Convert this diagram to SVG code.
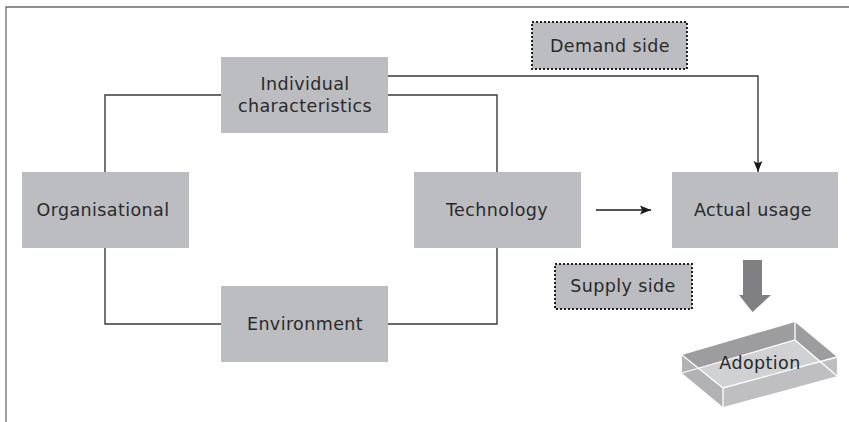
<svg xmlns="http://www.w3.org/2000/svg" width="849" height="422" viewBox="0 0 849 422">
<defs>
<style>
.box{fill:#bcbdc0;}
.dot{fill:#bcbdc0;stroke:#231f20;stroke-width:2;stroke-dasharray:2 2;}
.lbl{font-family:"DejaVu Sans","Liberation Sans",sans-serif;font-size:17.5px;fill:#2a2a2a;text-anchor:middle;letter-spacing:0.4px;}
.conn{fill:none;stroke:#3a3a3a;stroke-width:1.4;}
.wl{fill:none;stroke:#ffffff;stroke-width:1.3;}
</style>
<marker id="ah" viewBox="0 0 10 10" refX="10" refY="5" markerWidth="11" markerHeight="11" markerUnits="userSpaceOnUse" orient="auto">
<path d="M0,1 L10,5 L0,9 L2,5 Z" fill="#1a1a1a"/>
</marker>
</defs>
<rect width="849" height="422" fill="#ffffff"/>
<path d="M6,422 V7 H849" fill="none" stroke="#6a6a6a" stroke-width="1.3"/>
<g id="connectors">
<path class="conn" d="M221,95 H105 V172"/>
<path class="conn" d="M105,248 V324 H221"/>
<path class="conn" d="M388,324 H497 V248"/>
<path class="conn" d="M497,172 V95 H388"/>
<path class="conn" d="M388,76 H758 V172" marker-end="url(#ah)"/>
<path d="M596,210 H651" fill="none" stroke="#1a1a1a" stroke-width="1.4" marker-end="url(#ah)"/>
<path d="M743,260 H762 V295 H771 L752.5,312 L739,295 H743 Z" fill="#808083"/>
</g>
<g id="individual">
<rect class="box" x="221" y="57" width="167" height="76"/>
<text class="lbl" x="305" y="89.5">Individual</text>
<text class="lbl" x="305" y="112">characteristics</text>
</g>
<g id="organisational">
<rect class="box" x="22" y="172" width="167" height="76"/>
<text class="lbl" x="103" y="216">Organisational</text>
</g>
<g id="environment">
<rect class="box" x="221" y="286" width="167" height="76"/>
<text class="lbl" x="305" y="330">Environment</text>
</g>
<g id="technology">
<rect class="box" x="414" y="172" width="167" height="76"/>
<text class="lbl" x="497" y="216">Technology</text>
</g>
<g id="actual-usage">
<rect class="box" x="672" y="172" width="166" height="76"/>
<text class="lbl" x="753" y="216">Actual usage</text>
</g>
<g id="demand-side">
<rect class="dot" x="532" y="22" width="155" height="47"/>
<text class="lbl" x="610" y="52">Demand side</text>
</g>
<g id="supply-side">
<rect class="dot" x="555" y="264" width="137" height="45"/>
<text class="lbl" x="623" y="292">Supply side</text>
</g>
<g id="adoption">
<polygon points="682,355 795,322 795,340 682,373" fill="#9d9d9f"/>
<polygon points="795,322 837,357 837,376 795,340" fill="#9d9d9f"/>
<polygon points="682,373 795,340 837,376 723,407" fill="#d0d1d3"/>
<polygon points="682,355 723,388 723,407 682,373" fill="#b2b2b4"/>
<polygon points="723,388 837,357 837,376 723,407" fill="#bfbfc1"/>
<path class="wl" d="M682,373 L795,340 L837,376 M795,322 V340 M682,355 L723,388 L837,357 M723,388 V407"/>
<text class="lbl" x="760" y="369">Adoption</text>
</g>
</svg>
